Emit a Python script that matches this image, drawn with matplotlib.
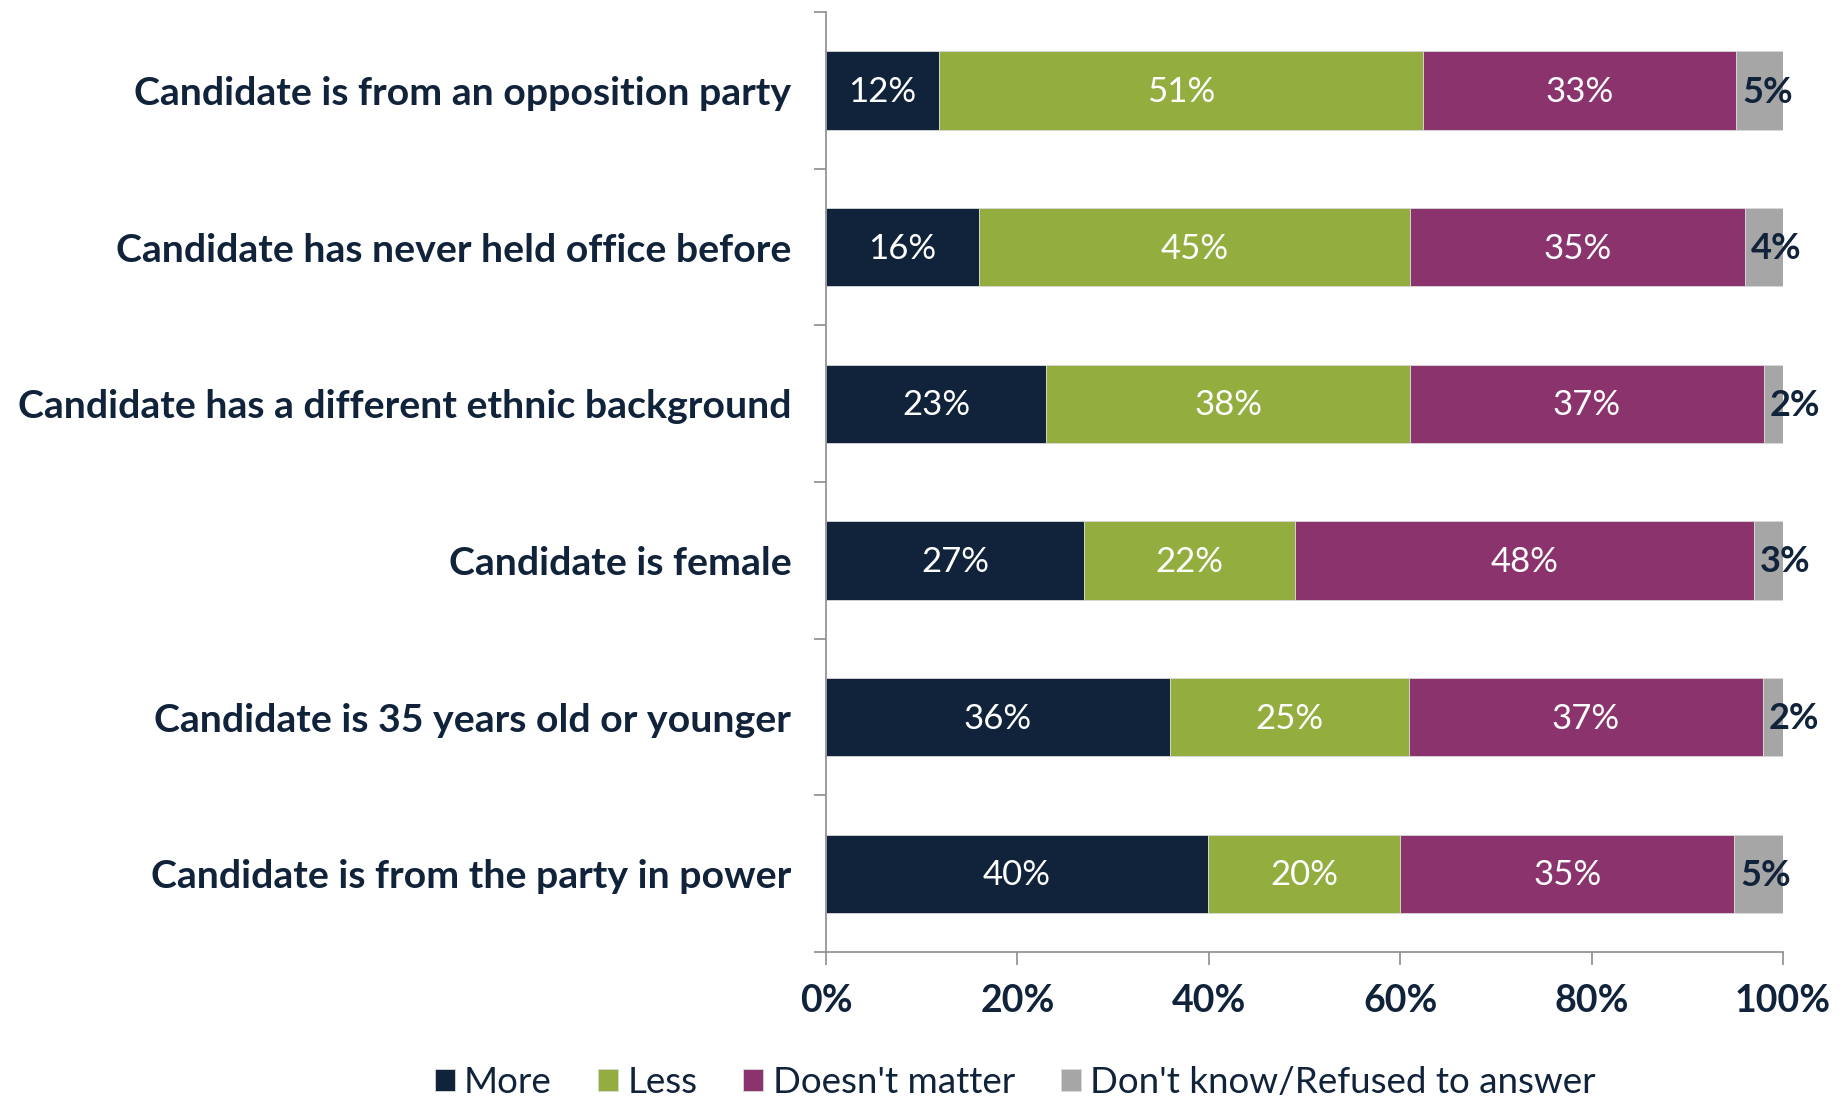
import matplotlib
matplotlib.use("Agg")
import matplotlib.pyplot as plt
import numpy as np

categories = [
    "Candidate is from an opposition party",
    "Candidate has never held office before",
    "Candidate has a different ethnic background",
    "Candidate is female",
    "Candidate is 35 years old or younger",
    "Candidate is from the party in power",
]
series_names = ["More", "Less", "Doesn't matter", "Don't know/Refused to answer"]
more = [11.8, 16.0, 23.0, 27.0, 35.9, 39.9]
less = [50.6, 45.0, 38.0, 22.0, 25.0, 20.1]
doesnt_matter = [32.7, 35.0, 37.0, 48.0, 37.0, 34.9]
dont_know = [4.9, 4.0, 2.1, 3.0, 2.1, 5.1]
xticks = [0, 20, 40, 60, 80, 100]
xtick_labels = ["0%", "20%", "40%", "60%", "80%", "100%"]

colors = ["#10233b", "#93ad3f", "#8b336d", "#a6a6a6"]
NAVY = "#10233b"
plt.rcParams["font.family"] = ["Lato", "DejaVu Sans"]

fig = plt.figure(figsize=(18.46, 11.06), dpi=100)
ax = fig.add_axes([0.4475, 0.1392, 0.9659 - 0.4475, 0.989 - 0.1392])

y = np.arange(len(categories))
left = np.zeros(len(categories))
for si, (name, vals) in enumerate(zip(series_names, [more, less, doesnt_matter, dont_know])):
    vals = np.array(vals)
    ax.barh(y, vals, left=left, height=0.5, color=colors[si], label=name,
            edgecolor="#d9d9d9", linewidth=0.6)
    for yi, l, v in zip(y, left, vals):
        if si < 3:
            ax.text(l + v / 2, yi + 0.01, f"{v:.0f}%", ha="center", va="center",
                    color="white", fontsize=25)
        else:
            ax.text(l + 0.6, yi + 0.01, f"{v:.0f}%", ha="left", va="center",
                    color=NAVY, fontsize=26, fontweight="bold")
    left += vals

ax.set_xlim(0, 100)
ax.set_ylim(len(categories) - 0.5, -0.5)
ax.set_yticks(y)
ax.set_yticklabels(categories, fontsize=28.3, fontweight="bold", color=NAVY)
ax.set_yticks(np.arange(len(categories) + 1) - 0.5, minor=True)
ax.tick_params(axis="y", which="major", length=0, pad=25)
ax.tick_params(axis="y", which="minor", length=9, color="#8c8c8c", width=1.2)
ax.set_xticks(xticks)
ax.set_xticklabels(xtick_labels, fontsize=27, fontweight="bold", color=NAVY)
ax.tick_params(axis="x", length=9, color="#8c8c8c", width=1.2, pad=14)
for s in ["top", "right"]:
    ax.spines[s].set_visible(False)
for s in ["left", "bottom"]:
    ax.spines[s].set_color("#8c8c8c")
    ax.spines[s].set_linewidth(1.2)

leg = fig.legend(loc="lower center", bbox_to_anchor=(0.55, -0.024), ncol=4, frameon=False,
                 handlelength=0.55, handleheight=0.55, handletextpad=0.25,
                 columnspacing=1.25, prop={"size": 26.5})
for t in leg.get_texts():
    t.set_color(NAVY)

fig.savefig("out.png", dpi=100)
